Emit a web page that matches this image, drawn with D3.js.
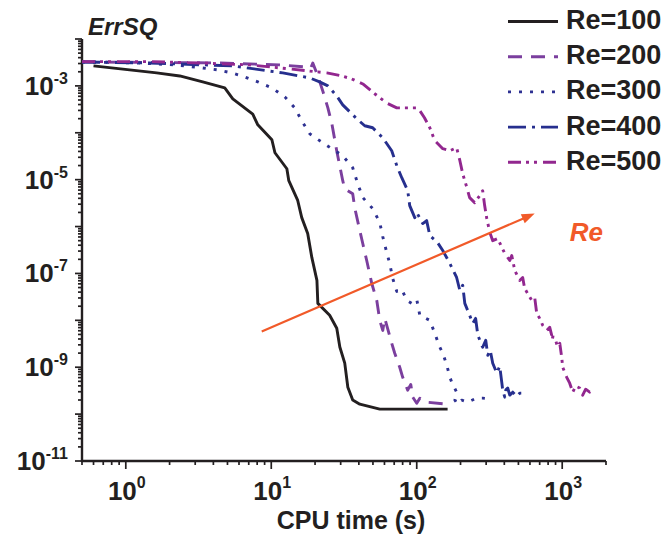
<!DOCTYPE html>
<html><head><meta charset="utf-8">
<script src="https://cdn.jsdelivr.net/npm/d3@7"></script>
<style>
html,body{margin:0;padding:0;background:#fff;}
svg text{font-family:"Liberation Sans",Arial,sans-serif;font-weight:bold;fill:#231f20;}
</style></head>
<body><svg id="c" width="664" height="547"></svg>
<script>
// ---- data (CPU time [s], ErrSQ) ----
const seriesNames = ["Re=100","Re=200","Re=300","Re=400","Re=500"];
const re100 = [[0.60,2.67e-3],[1.63,1.89e-3],[2.35,1.63e-3],[3.38,1.22e-3],[4.79,9.1e-4],[5.44,5.3e-4],[7.46,2.5e-4],[8.08,1.48e-4],[10.1,7.1e-5],[10.6,3.75e-5],[12.8,1.71e-5],[13.2,9.5e-6],[15.2,3.6e-6],[16.2,1.55e-6],[17.8,7.1e-7],[19.0,2.2e-7],[20.6,7.1e-8],[20.9,2.3e-8],[25.2,1.28e-8],[28.2,6.8e-9],[29.6,2.7e-9],[32.0,1.22e-9],[33.6,3.75e-10],[36.3,2.0e-10],[40.6,1.63e-10],[55.7,1.28e-10],[105,1.28e-10],[163,1.28e-10]];
const re200 = [[0.5,3.24e-3],[1.46,3.16e-3],[4.43,3.08e-3],[11.4,2.8e-3],[17.0,2.54e-3],[18.7,2.41e-3],[19.3,3.08e-3],[20.9,1.63e-3],[22.6,7.8e-4],[24.5,3.4e-4],[26.1,1.55e-4],[28.2,4.1e-5],[31.0,9.5e-6],[32.0,6.4e-6],[36.3,5.0e-6],[37.5,2.5e-6],[40.6,8.2e-7],[42.6,4.3e-7],[45.3,1.89e-7],[49.1,6.1e-8],[53.1,2.67e-8],[55.7,1.0e-8],[58.4,6.1e-9],[60.3,1.1e-8],[67.3,3.24e-9],[70.6,1.99e-9],[76.4,1.0e-9],[80.1,6.1e-10],[86.7,3.24e-10],[91.0,4.3e-10],[93.9,2.3e-10],[100,1.71e-10],[105,2.19e-10],[117,1.8e-10],[163,1.63e-10]];
const re300 = [[0.5,3.24e-3],[1.25,3.08e-3],[2.17,2.8e-3],[3.38,2.41e-3],[4.29,2.19e-3],[5.35,1.89e-3],[6.58,1.55e-3],[8.08,1.22e-3],[10.1,9.06e-4],[12.4,5.83e-4],[14.5,3.4e-4],[16.2,1.8e-4],[18.4,9.5e-5],[21.5,6.8e-5],[26.1,4.57e-5],[31.0,3.24e-5],[36.3,1.8e-5],[39.3,8.2e-6],[42.6,4.14e-6],[49.8,2.41e-6],[55.7,1.22e-6],[58.4,6.1e-7],[62.2,2.8e-7],[65.2,1.63e-7],[68.4,7.8e-8],[72.9,4.14e-8],[78.9,4.57e-8],[85.4,2.67e-8],[92.4,2.3e-8],[100,2.8e-8],[105,1.28e-8],[123,1.0e-8],[133,5.3e-9],[144,2.67e-9],[151,2.0e-9],[161,1.1e-9],[169,6.1e-10],[174,4.8e-10],[188,2.94e-10],[183,1.99e-10],[191,1.63e-10],[204,1.99e-10],[224,1.8e-10],[258,2.19e-10],[284,2.19e-10],[328,2.09e-10]];
const re400 = [[0.5,3.24e-3],[1.46,3.08e-3],[5.44,2.67e-3],[12.0,1.89e-3],[18.4,1.48e-3],[21.5,1.22e-3],[24.5,1.0e-3],[28.2,6.1e-4],[31.0,3.94e-4],[38.7,1.99e-4],[43.9,1.41e-4],[49.8,1.28e-4],[58.4,7.8e-5],[67.3,4.14e-5],[72.9,1.99e-5],[78.9,1.1e-5],[86.7,5.83e-6],[89.5,2.8e-6],[96.9,1.55e-6],[100,1.99e-6],[110,1.16e-6],[117,1.34e-6],[123,6.4e-7],[139,4.57e-7],[151,3.08e-7],[169,1.63e-7],[188,8.2e-8],[198,4.3e-8],[207,5.6e-8],[214,2.3e-8],[224,1.63e-8],[243,8.6e-9],[254,1.1e-8],[263,4.8e-9],[284,2.67e-9],[298,3.75e-9],[308,1.8e-9],[320,2.3e-9],[333,1.22e-9],[355,7.5e-10],[372,1.05e-9],[384,4.8e-10],[390,3.24e-10],[403,2.3e-10],[410,3.3e-10],[422,3.6e-10],[436,2.54e-10],[457,2.94e-10],[487,2.41e-10],[510,2.8e-10],[552,2.8e-10]];
const re500 = [[0.5,3.3e-3],[1.46,3.3e-3],[3.23,3.08e-3],[7.12,2.8e-3],[13.4,2.3e-3],[24.1,1.89e-3],[30.5,1.63e-3],[35.7,1.41e-3],[42.6,1.1e-3],[51.4,6.8e-4],[62.2,4.3e-4],[72.9,3.4e-4],[102,3.4e-4],[113,2.09e-4],[123,1.28e-4],[133,6.8e-5],[151,4.57e-5],[169,4.14e-5],[188,4.8e-5],[198,2.54e-5],[207,1.34e-5],[221,6.8e-6],[231,4.14e-6],[250,3.24e-6],[271,4.57e-6],[284,5.83e-6],[293,2.8e-6],[303,1.48e-6],[318,7.5e-7],[333,5.0e-7],[360,5.56e-7],[403,2.67e-7],[436,1.89e-7],[450,2.4e-7],[472,1.16e-7],[510,7.1e-8],[535,8.2e-8],[552,4.8e-8],[617,2.67e-8],[647,3.08e-8],[668,1.41e-8],[700,1.1e-8],[735,7.8e-9],[783,6.1e-9],[821,7.1e-9],[847,4.8e-9],[808,4.57e-9],[888,4.35e-9],[931,2.67e-9],[962,3.24e-9],[992,1.63e-9],[1008,1.0e-9],[1041,7.8e-10],[1074,6.1e-10],[1126,4.57e-10],[1181,2.94e-10],[1238,3.94e-10],[1318,3.6e-10],[1383,2.54e-10],[1450,3.4e-10],[1545,2.94e-10],[1595,3.6e-10]];
const seriesData = [re100, re200, re300, re400, re500];
const colors = ["#231f20","#7b3f9e","#2e3192","#262f8e","#92278f"];
const dashes = ["none","14,9","3,8","18,6,3,6","13,5,3,5,3,6"];
const xTickLabels = ["0","1","2","3"];          // exponents of 10
const yTickLabels = ["-11","-9","-7","-5","-3"]; // exponents of 10
const arrowFrom = [8.6, 5.8e-9], arrowTo = [647, 1.89e-6];

const svg = d3.select("#c");
const x = d3.scaleLog().domain([0.5, 2000]).range([82, 606]);
const y = d3.scaleLog().domain([1e-11, 1e-2]).range([461, 39]);
const ink = "#231f20";

const xMinor = [], yMinor = [];
for (let e = -1; e <= 3; e++) for (let m = 1; m <= 9; m++) { const v = m * Math.pow(10, e); if (v >= 0.5 && v <= 2000) xMinor.push(v); }
for (let e = -11; e <= -3; e++) for (let m = 1; m <= 9; m++) yMinor.push(m * Math.pow(10, e));
yMinor.push(1e-2);
const isMajor = d => Math.abs(Math.log10(d) - Math.round(Math.log10(d))) < 1e-9;

svg.append("g").selectAll("line").data(xMinor).enter().append("line")
  .attr("x1", d => x(d)).attr("x2", d => x(d)).attr("y1", 461)
  .attr("y2", d => isMajor(d) ? 469 : 465)
  .attr("stroke", ink).attr("stroke-width", 1.7);
svg.append("g").selectAll("line").data(yMinor).enter().append("line")
  .attr("y1", d => y(d)).attr("y2", d => y(d)).attr("x1", 82)
  .attr("x2", d => isMajor(d) ? 75 : 78)
  .attr("stroke", ink).attr("stroke-width", 1.7);
svg.append("line").attr("x1", 81).attr("x2", 606).attr("y1", 461).attr("y2", 461).attr("stroke", ink).attr("stroke-width", 2.4);
svg.append("line").attr("x1", 82).attr("x2", 82).attr("y1", 39).attr("y2", 462).attr("stroke", ink).attr("stroke-width", 2.4);

xTickLabels.forEach(e => {
  const t = svg.append("text").attr("x", x(Math.pow(10, +e)) + 1).attr("y", 500).attr("text-anchor", "middle").style("font-size", "26px");
  t.append("tspan").text("10");
  t.append("tspan").attr("dy", -12).style("font-size", "16px").text(e);
});
yTickLabels.forEach(e => {
  const t = svg.append("text").attr("x", 68).attr("y", y(Math.pow(10, +e)) + 9).attr("text-anchor", "end").style("font-size", "26px");
  t.append("tspan").text("10");
  t.append("tspan").attr("dy", -11).style("font-size", "16px").text(e);
});
svg.append("text").attr("x", 351).attr("y", 529).attr("text-anchor", "middle").style("font-size", "25px").text("CPU time (s)");
svg.append("text").attr("x", 88).attr("y", 35).style("font-size", "24px").style("font-style", "italic").text("ErrSQ");

const line = d3.line().x(d => x(d[0])).y(d => y(d[1]));
seriesData.forEach((s, i) => {
  svg.append("path").attr("d", line(s)).attr("fill", "none").attr("stroke", colors[i])
    .attr("stroke-width", 2.9).attr("stroke-dasharray", dashes[i]).attr("stroke-linejoin", "round");
});

const ax1 = x(arrowFrom[0]), ay1 = y(arrowFrom[1]), ax2 = x(arrowTo[0]), ay2 = y(arrowTo[1]);
const ang = Math.atan2(ay2 - ay1, ax2 - ax1), hl = 13, hw = 5;
svg.append("line").attr("x1", ax1).attr("y1", ay1).attr("x2", ax2 - hl * Math.cos(ang) * 0.8).attr("y2", ay2 - hl * Math.sin(ang) * 0.8)
  .attr("stroke", "#f15a29").attr("stroke-width", 2.2);
const bx = ax2 - hl * Math.cos(ang), by = ay2 - hl * Math.sin(ang);
svg.append("path").attr("fill", "#f15a29")
  .attr("d", `M${ax2},${ay2}L${bx + hw * Math.sin(ang)},${by - hw * Math.cos(ang)}L${bx - hw * Math.sin(ang)},${by + hw * Math.cos(ang)}Z`);
svg.append("text").attr("x", ax2 + 35).attr("y", ay2 + 27).style("font-size", "26px").style("font-style", "italic")
  .style("fill", "#f15a29").text("Re");

seriesNames.forEach((n, i) => {
  const by0 = 29 + i * 35.2;
  svg.append("line").attr("x1", 508).attr("x2", 558).attr("y1", by0 - 7.5).attr("y2", by0 - 7.5)
    .attr("stroke", colors[i]).attr("stroke-width", 2.9).attr("stroke-dasharray", dashes[i]);
  svg.append("text").attr("x", 566).attr("y", by0).style("font-size", "27px").text(n);
});
</script></body></html>
